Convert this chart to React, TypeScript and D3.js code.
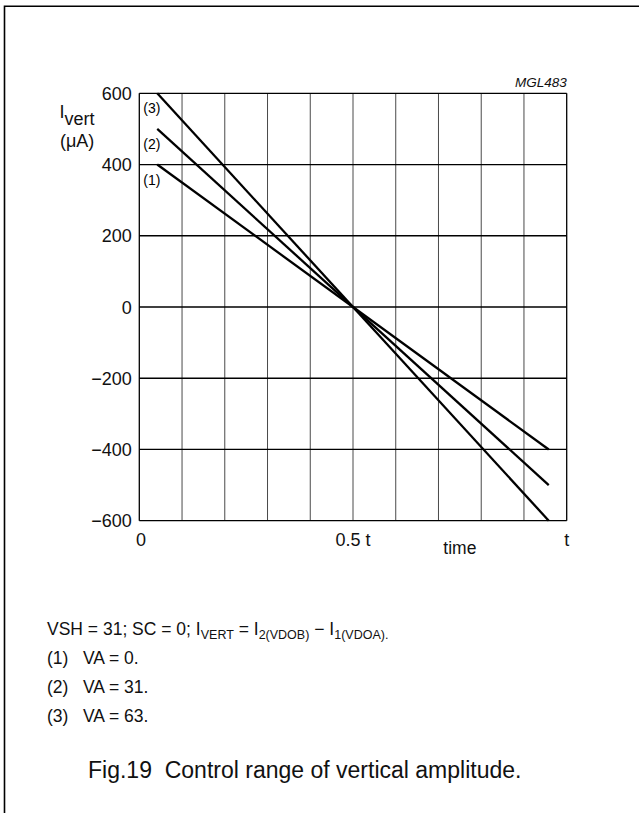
import * as d3 from 'd3'

// ── Data ──────────────────────────────────────────────────────
const timeTicks = [0, 0.5, 1]
const timeTickLabels = ['0', '0.5 t', 't']
const timeGrid = [0, 0.1, 0.2, 0.3, 0.4, 0.5, 0.6, 0.7, 0.8, 0.9, 1]

const currentTicks = [600, 400, 200, 0, -200, -400, -600]
const currentTickLabels = ['600', '400', '200', '0', '\u2212200', '\u2212400', '\u2212600']

const seriesNames = ['(1)', '(2)', '(3)']
const seriesTimes = [0.042, 0.958]
const seriesStart = [400, 500, 600]
const seriesEnd = [-400, -500, -600]

const vaValues = ['0', '31', '63']

const FONT = '"Liberation Sans", Arial, Helvetica, sans-serif'

export default function App() {
  const W = 639
  const H = 813
  const plot = { left: 139.3, right: 566.7, top: 93.3, bottom: 520.7 }

  const x = d3.scaleLinear().domain([0, 1]).range([plot.left, plot.right])
  const y = d3.scaleLinear().domain([-600, 600]).range([plot.bottom, plot.top])

  const line = d3
    .line<[number, number]>()
    .x((d) => x(d[0]))
    .y((d) => y(d[1]))

  const series = seriesNames.map((name, i) => ({
    name,
    points: [
      [seriesTimes[0], seriesStart[i]],
      [seriesTimes[1], seriesEnd[i]],
    ] as [number, number][],
  }))

  return (
    <svg
      width={W}
      height={H}
      viewBox={`0 0 ${W} ${H}`}
      style={{ position: 'absolute', left: 0, top: 0, background: '#fff' }}
      fontFamily={FONT}
    >
      <rect width={W} height={H} fill="#fff" />
      {/* page frame */}
      <path d={`M4.5,${H} V6.2 H${W}`} fill="none" stroke="#000" strokeWidth={1.6} />

      {/* vertical grid */}
      {timeGrid.slice(1, -1).map((t) => (
        <line key={t} x1={x(t)} x2={x(t)} y1={plot.top} y2={plot.bottom} stroke="#4a4a4a" strokeWidth={1} />
      ))}
      {/* horizontal grid */}
      {currentTicks.map((v) => (
        <line key={v} x1={plot.left} x2={plot.right} y1={y(v)} y2={y(v)} stroke="#000" strokeWidth={1.3} />
      ))}
      <line x1={x(0)} x2={x(0)} y1={plot.top} y2={plot.bottom} stroke="#000" strokeWidth={1.3} />
      <line x1={x(1)} x2={x(1)} y1={plot.top} y2={plot.bottom} stroke="#000" strokeWidth={1.3} />

      {/* curves */}
      {series.map((s) => (
        <path key={s.name} d={line(s.points) ?? ''} fill="none" stroke="#000" strokeWidth={2.3} />
      ))}
      {series.map((s) => (
        <text key={s.name} x={plot.left + 4} y={y(s.points[0][1]) + 20} fontSize={14}>
          {s.name}
        </text>
      ))}

      {/* y ticks */}
      {currentTicks.map((v, i) => (
        <text key={v} x={131.7} y={y(v) + 6.5} fontSize={18} textAnchor="end" fill="#111">
          {currentTickLabels[i]}
        </text>
      ))}
      {/* x ticks */}
      {timeTicks.map((t, i) => (
        <text key={t} x={x(t) + (i === 0 ? 1.8 : 0)} y={546} fontSize={18} textAnchor="middle" fill="#111">
          {timeTickLabels[i]}
        </text>
      ))}
      <text x={x(0.75)} y={553.5} fontSize={17.5} textAnchor="middle" fill="#111">
        time
      </text>

      {/* y axis label */}
      <text x={59.5} y={117.5} fontSize={18} fill="#111">
        I
        <tspan dy={7.5}>vert</tspan>
      </text>
      <text x={60} y={147} fontSize={18} fill="#111">
        (μA)
      </text>

      <text x={plot.right} y={86.5} fontSize={13.5} fontStyle="italic" textAnchor="end" fill="#111">
        MGL483
      </text>

      {/* notes */}
      <text x={47} y={635} fontSize={17.5} fill="#111">
        VSH = 31; SC = 0; I
        <tspan fontSize={12.5} dy={4}>VERT</tspan>
        <tspan dy={-4}> = I</tspan>
        <tspan fontSize={12.5} dy={4}>2(VDOB)</tspan>
        <tspan dy={-4}> {'\u2212'} I</tspan>
        <tspan fontSize={12.5} dy={4}>1(VDOA).</tspan>
      </text>
      {vaValues.map((v, i) => (
        <g key={v}>
          <text x={47} y={664 + i * 28.8} fontSize={17.5} fill="#111">
            {seriesNames[i]}
          </text>
          <text x={83} y={664 + i * 28.8} fontSize={17.5} fill="#111">
            VA = {v}.
          </text>
        </g>
      ))}

      <text x={88} y={777.5} fontSize={23} fill="#111">
        Fig.19{'\u00a0\u00a0'}Control range of vertical amplitude.
      </text>
    </svg>
  )
}
